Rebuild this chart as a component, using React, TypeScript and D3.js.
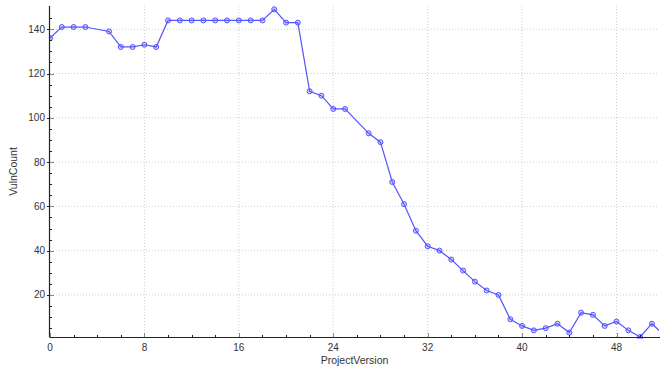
import React from "react";
import * as d3 from "d3";

const versions = [0,1,2,3,5,6,7,8,9,10,11,12,13,14,15,16,17,18,19,20,21,22,23,24,25,27,28,29,30,31,32,33,34,35,36,37,38,39,40,41,42,43,44,45,46,47,48,49,50,51,52];
const vulnCounts = [136,141,141,141,139,132,132,133,132,144,144,144,144,144,144,144,144,144,149,143,143,112,110,104,104,93,89,71,61,49,42,40,36,31,26,22,20,9,6,4,5,7,3,12,11,6,8,4,1,7,2];
const xTicks = [0,8,16,24,32,40,48];
const yTicks = [20,40,60,80,100,120,140];
const xLabel = "ProjectVersion";
const yLabel = "VulnCount";

const W = 660, H = 367;
const L = 50, R = 659, T = 6, B = 337;

export default function App() {
  const x = d3.scaleLinear().domain([0, 51.6]).range([L, R]);
  const y = d3.scaleLinear().domain([1.0, 150.5]).range([B, T]);
  const data = versions.map((v, i) => ({ v, c: vulnCounts[i] }));
  const line = d3.line<{ v: number; c: number }>().x(d => x(d.v)).y(d => y(d.c));
  const xMinor = d3.range(0, 52, 2);
  const yMinor = d3.range(5, 150, 5);
  const font = "'Liberation Sans', Arial, sans-serif";
  const color = "#5454ff";
  return (
    <svg width={W} height={H} style={{ position: "absolute", left: 0, top: 0, background: "#fff" }} fontFamily={font}>
      <defs>
        <clipPath id="plot"><rect x={L} y={0} width={R - L} height={B + 2} /></clipPath>
      </defs>
      {xTicks.filter(t => t > 0).map(t => (
        <line key={"gx" + t} x1={x(t)} x2={x(t)} y1={T} y2={B} stroke="#cfcfcf" strokeDasharray="1,2" />
      ))}
      {yTicks.map(t => (
        <line key={"gy" + t} x1={L} x2={R} y1={y(t)} y2={y(t)} stroke="#cfcfcf" strokeDasharray="1,2" />
      ))}
      <g clipPath="url(#plot)">
        <path d={line(data) || ""} fill="none" stroke={color} strokeWidth={1.2} />
        {data.map(d => (
          <circle key={d.v} cx={x(d.v)} cy={y(d.c)} r={2.5} fill="rgba(84,84,255,0.25)" stroke={color} strokeWidth={1} />
        ))}
      </g>
      <line x1={L - 0.5} x2={L - 0.5} y1={T} y2={B} stroke="#222" strokeWidth={1.2} />
      <line x1={L - 0.5} x2={R + 1} y1={B + 0.5} y2={B + 0.5} stroke="#222" strokeWidth={1.2} />
      {xMinor.map(t => (
        <line key={"xm" + t} x1={Math.round(x(t)) + 0.5} x2={Math.round(x(t)) + 0.5} y1={B} y2={B - (t % 8 === 0 ? 4 : 2)} stroke={t % 8 === 0 ? "#888" : "#222"} />
      ))}
      {yMinor.map(t => (
        <line key={"ym" + t} x1={L} x2={L + (t % 20 === 0 ? 4 : 2)} y1={Math.round(y(t)) + 0.5} y2={Math.round(y(t)) + 0.5} stroke={t % 20 === 0 ? "#888" : "#222"} />
      ))}
      {yTicks.map(t => (
        <line key={"yo" + t} x1={L - 3} x2={L} y1={Math.round(y(t)) + 0.5} y2={Math.round(y(t)) + 0.5} stroke="#222" />
      ))}
      {xTicks.map(t => (
        <text key={"xl" + t} x={x(t)} y={351} textAnchor="middle" fontSize={10} fill="#333">{t}</text>
      ))}
      {yTicks.map(t => (
        <text key={"yl" + t} x={45} y={y(t) + 3.5} textAnchor="end" fontSize={10} fill="#333">{t}</text>
      ))}
      <text x={(L + R) / 2} y={364} textAnchor="middle" fontSize={10.5} fill="#333">{xLabel}</text>
      <text transform={`translate(17,${(T + B) / 2}) rotate(-90)`} textAnchor="middle" fontSize={10.5} fill="#333">{yLabel}</text>
    </svg>
  );
}
